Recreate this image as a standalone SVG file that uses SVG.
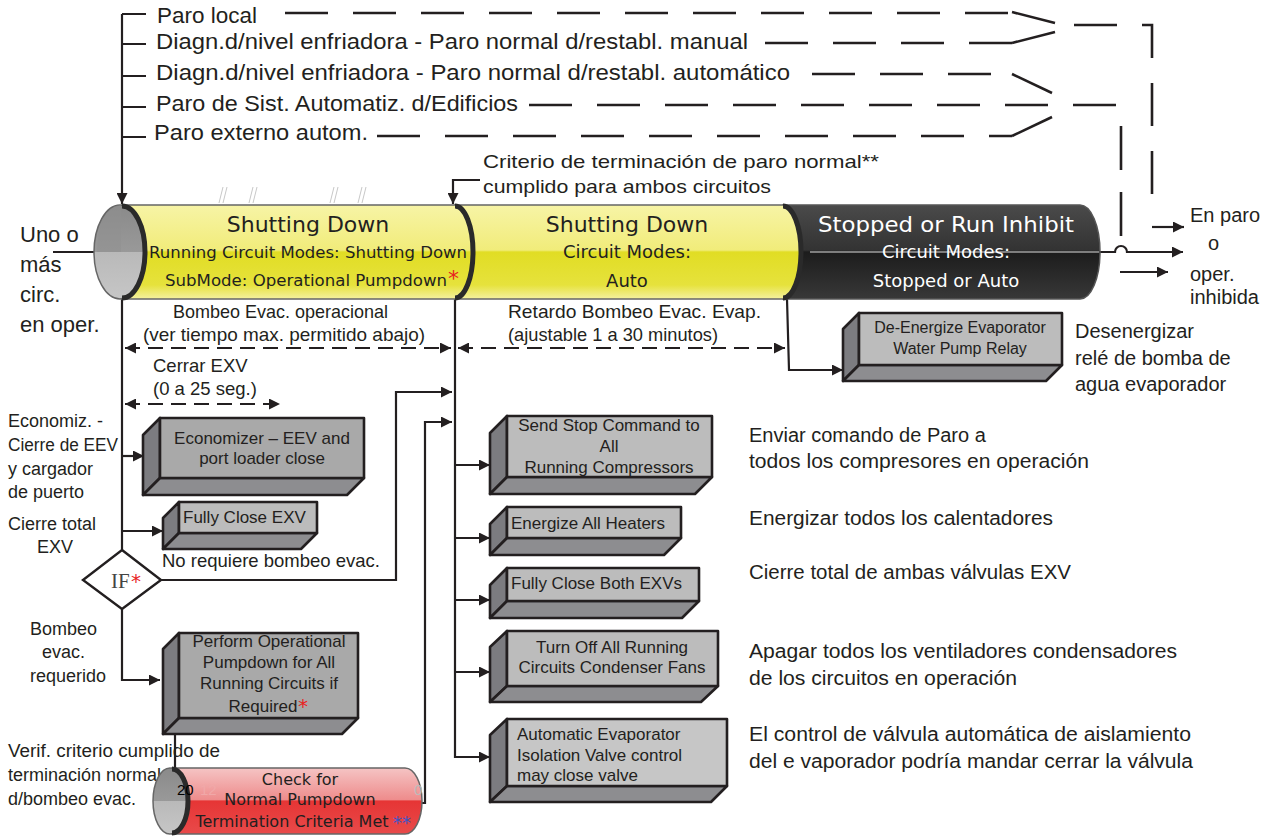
<svg xmlns="http://www.w3.org/2000/svg" width="1273" height="837" viewBox="0 0 1273 837">
<defs>
<style>
.t{font-family:"Liberation Sans",Arial,sans-serif;fill:#231f20}
.v{font-family:"DejaVu Sans",Verdana,sans-serif;fill:#231f20}
.bx{font-family:"Liberation Sans",Arial,sans-serif;fill:#231f20;font-size:17px}
.ln{stroke:#231f20;stroke-width:2.2;fill:none}
.ds{stroke:#231f20;stroke-width:2.6;fill:none;stroke-dasharray:43 25}
.dd{stroke:#231f20;stroke-width:2.2;fill:none;stroke-dasharray:15 8}
.sl{stroke:#231f20;stroke-width:2.6;fill:none}
.ff{fill:#bcbcbc;stroke:#231f20;stroke-width:2.6;stroke-linejoin:round}
.fd{fill:#a9a9a9;stroke:#231f20;stroke-width:2.6;stroke-linejoin:round}
.fs{fill:#7c7c80;stroke:#231f20;stroke-width:2.6;stroke-linejoin:round}
.fb{fill:#8d8d90;stroke:#231f20;stroke-width:2.6;stroke-linejoin:round}
.cres{stroke:#2a2a2a;stroke-width:5;fill:none}
.red{fill:#e8231f}
.w{fill:#fff}
</style>
<marker id="ah" viewBox="0 0 10 10" refX="10" refY="5" markerWidth="11" markerHeight="11" markerUnits="userSpaceOnUse" orient="auto-start-reverse"><path d="M0,0 L10,5 L0,10 z" fill="#231f20"/></marker>
<linearGradient id="yel" x1="0" y1="0" x2="0" y2="1">
<stop offset="0" stop-color="#f7f4a6"/><stop offset="0.48" stop-color="#f1ec7a"/><stop offset="0.5" stop-color="#e1dd24"/><stop offset="0.85" stop-color="#e6e23c"/><stop offset="1" stop-color="#f4f1a0"/>
</linearGradient>
<linearGradient id="blk" x1="0" y1="0" x2="0" y2="1">
<stop offset="0" stop-color="#4a4a4a"/><stop offset="0.48" stop-color="#333"/><stop offset="0.5" stop-color="#1c1c1c"/><stop offset="1" stop-color="#383838"/>
</linearGradient>
<linearGradient id="rd" x1="0" y1="0" x2="0" y2="1">
<stop offset="0" stop-color="#f5c4c4"/><stop offset="0.48" stop-color="#ee8c8c"/><stop offset="0.5" stop-color="#e63535"/><stop offset="1" stop-color="#e84a4a"/>
</linearGradient>
<linearGradient id="gc" x1="0" y1="0" x2="0" y2="1">
<stop offset="0" stop-color="#8a8a8a"/><stop offset="0.5" stop-color="#999"/><stop offset="0.5" stop-color="#b9b9b9"/><stop offset="1" stop-color="#c6c6c6"/>
</linearGradient>
</defs>
<rect width="1273" height="837" fill="#fff"/>

<g id="inputs">
<text class="t" x="157" y="23" font-size="22" textLength="100" lengthAdjust="spacingAndGlyphs">Paro local</text>
<text class="t" x="156" y="49" font-size="22" textLength="592" lengthAdjust="spacingAndGlyphs">Diagn.d/nivel enfriadora - Paro normal d/restabl. manual</text>
<text class="t" x="156" y="80" font-size="22" textLength="634" lengthAdjust="spacingAndGlyphs">Diagn.d/nivel enfriadora - Paro normal d/restabl. automático</text>
<text class="t" x="156" y="111" font-size="22" textLength="362" lengthAdjust="spacingAndGlyphs">Paro de Sist. Automatiz. d/Edificios</text>
<text class="t" x="154" y="140" font-size="22" textLength="214" lengthAdjust="spacingAndGlyphs">Paro externo autom.</text>
</g>

<g id="connectors">
<path class="ln" d="M122 14 V204" marker-end="url(#ah)"/>
<path class="ln" d="M122 14 H146 M122 44 H146 M122 76 H146 M122 107 H146 M122 137 H146"/>
<path class="ds" d="M285 13 H1010"/>
<path class="sl" d="M1012 12 L1055 23"/>
<path class="ds" d="M765 43 H1012"/>
<path class="sl" d="M1012 43 L1055 32"/>
<path class="ds" d="M1074 25 H1152 V195"/>
<path class="ds" d="M812 74 H995"/>
<path class="sl" d="M1012 74 L1052 93"/>
<path class="ds" d="M529 105 H1118"/>
<path class="ds" d="M377 136 H1012"/>
<path class="sl" d="M1012 136 L1052 117"/>
<path class="sl" d="M1121 126 V237" stroke-dasharray="44 22"/>
<path class="ln" d="M480 180 H453 V204" marker-end="url(#ah)"/>
<path class="ln" d="M53 252 H115" marker-end="url(#ah)"/>
<path class="ln" d="M1098 252 H1115 A6 6 0 0 1 1127 252 H1183" marker-end="url(#ah)"/>
<path class="ln" d="M1152 227 H1184" marker-end="url(#ah)"/>
<path class="ln" d="M1120 272 H1168" marker-end="url(#ah)"/>
<path class="ln" d="M122 299 V550"/>
<path class="ln" d="M122 456 H144" marker-end="url(#ah)"/>
<path class="ln" d="M122 531 H163" marker-end="url(#ah)"/>
<path class="ln" d="M161 580 H396 V392 H452" marker-end="url(#ah)"/>
<path class="ln" d="M122 609 V680 H160" marker-end="url(#ah)"/>
<path class="ln" d="M175 735 V772"/>
<path class="ln" d="M408 803 H425 V422 H452" marker-end="url(#ah)"/>
<path class="ln" d="M455 299 V757 H490" marker-end="url(#ah)"/>
<path class="ln" d="M455 465 H490" marker-end="url(#ah)"/>
<path class="ln" d="M455 538 H490" marker-end="url(#ah)"/>
<path class="ln" d="M455 600 H490" marker-end="url(#ah)"/>
<path class="ln" d="M455 672 H490" marker-end="url(#ah)"/>
<path class="ln" d="M787 299 L789 370 H843" marker-end="url(#ah)"/>
<path class="dd" d="M125 348 H451" marker-start="url(#ah)" marker-end="url(#ah)"/>
<path class="dd" d="M458 348 H785" marker-start="url(#ah)" marker-end="url(#ah)"/>
<path class="dd" d="M125 404 H280" marker-start="url(#ah)" marker-end="url(#ah)"/>
</g>

<g id="marks" stroke="#c8c8c8" stroke-width="1" fill="none">
<path d="M223 187 L219 203 M227 187 L223 203 M253 187 L249 203 M257 187 L253 203 M334 187 L330 203 M338 187 L334 203 M362 187 L358 203 M366 187 L362 203"/>
</g>

<g id="pipe">
<path d="M783 205 H1080 A20 47 0 0 1 1080 299 H783 Z" fill="url(#blk)" stroke="#555" stroke-width="1.5"/>
<line x1="810" y1="252" x2="1099" y2="252" stroke="#ddd" stroke-width="1"/>
<path d="M455 205 H783 A18 47 0 0 1 783 299 H455 Z" fill="url(#yel)" stroke="#666" stroke-width="1.5"/>
<path class="cres" d="M783 206 A18 46 0 0 1 783 298"/>
<path d="M122 205 H455 A18 47 0 0 1 455 299 H122 Z" fill="url(#yel)" stroke="#666" stroke-width="1.5"/>
<path class="cres" d="M455 206 A18 46 0 0 1 455 298"/>
<ellipse cx="120" cy="252" rx="26" ry="47" fill="url(#gc)" stroke="#666" stroke-width="1.5"/>
<path d="M97 252 A24 47 0 0 1 121 205 V252 Z" fill="#909090" opacity="0.5"/>
<path class="cres" d="M122 206 A23 46 0 0 1 122 298"/>
<text class="v" x="308" y="232" font-size="22" text-anchor="middle">Shutting Down</text>
<text class="v" x="308" y="258" font-size="16" text-anchor="middle" textLength="318" lengthAdjust="spacingAndGlyphs">Running Circuit Modes: Shutting Down</text>
<text class="v" x="165" y="286" font-size="16" textLength="282" lengthAdjust="spacingAndGlyphs">SubMode: Operational Pumpdown</text>
<text x="448" y="286" font-size="22" class="red" font-family="DejaVu Sans,sans-serif">*</text>
<text class="v" x="627" y="232" font-size="22" text-anchor="middle">Shutting Down</text>
<text class="v" x="627" y="258" font-size="18" text-anchor="middle">Circuit Modes:</text>
<text class="v" x="627" y="287" font-size="18" text-anchor="middle">Auto</text>
<text class="v w" x="946" y="232" font-size="22" text-anchor="middle" textLength="256" lengthAdjust="spacingAndGlyphs">Stopped or Run Inhibit</text>
<text class="v w" x="946" y="258" font-size="18" text-anchor="middle">Circuit Modes:</text>
<text class="v w" x="946" y="287" font-size="18" text-anchor="middle">Stopped or Auto</text>
</g>

<g id="labels">
<text class="t" font-size="19" x="483" y="168" textLength="396" lengthAdjust="spacingAndGlyphs">Criterio de terminación de paro normal**</text>
<text class="t" font-size="19" x="483" y="193" textLength="288" lengthAdjust="spacingAndGlyphs">cumplido para ambos circuitos</text>
<text class="t" font-size="22" x="20" y="242">Uno o</text>
<text class="t" font-size="22" x="20" y="272">más</text>
<text class="t" font-size="22" x="20" y="302">circ.</text>
<text class="t" font-size="22" x="20" y="332">en oper.</text>
<text class="t" font-size="20" x="1190" y="222">En paro</text>
<text class="t" font-size="20" x="1208" y="250">o</text>
<text class="t" font-size="20" x="1190" y="281">oper.</text>
<text class="t" font-size="20" x="1190" y="304">inhibida</text>
<text class="t" font-size="18.5" x="173" y="318" textLength="215" lengthAdjust="spacingAndGlyphs">Bombeo Evac. operacional</text>
<text class="t" font-size="18.5" x="143" y="341" textLength="282" lengthAdjust="spacingAndGlyphs">(ver tiempo max. permitido abajo)</text>
<text class="t" font-size="18.5" x="508" y="318" textLength="253" lengthAdjust="spacingAndGlyphs">Retardo Bombeo Evac. Evap.</text>
<text class="t" font-size="18.5" x="508" y="341" textLength="210" lengthAdjust="spacingAndGlyphs">(ajustable 1 a 30 minutos)</text>
<text class="t" font-size="18.5" x="153" y="372">Cerrar EXV</text>
<text class="t" font-size="18.5" x="153" y="395">(0 a 25 seg.)</text>
<text class="t" font-size="18" x="8" y="427">Economiz. -</text>
<text class="t" font-size="18" x="8" y="451" textLength="110" lengthAdjust="spacingAndGlyphs">Cierre de EEV</text>
<text class="t" font-size="18" x="8" y="475">y cargador</text>
<text class="t" font-size="18" x="8" y="498">de puerto</text>
<text class="t" font-size="18" x="8" y="530">Cierre total</text>
<text class="t" font-size="18" x="37" y="553">EXV</text>
<text class="t" font-size="18.5" x="162" y="567" textLength="218" lengthAdjust="spacingAndGlyphs">No requiere bombeo evac.</text>
<text class="t" font-size="18" x="30" y="635">Bombeo</text>
<text class="t" font-size="18" x="42" y="658">evac.</text>
<text class="t" font-size="18" x="30" y="682">requerido</text>
<text class="t" font-size="18" x="8" y="757" textLength="212" lengthAdjust="spacingAndGlyphs">Verif. criterio cumplido de</text>
<text class="t" font-size="18" x="8" y="781">terminación normal</text>
<text class="t" font-size="18" x="8" y="805">d/bombeo evac.</text>
<text class="t" font-size="20" x="1075" y="338">Desenergizar</text>
<text class="t" font-size="20" x="1075" y="365">relé de bomba de</text>
<text class="t" font-size="20" x="1075" y="391">agua evaporador</text>
<text class="t" font-size="20" x="749" y="442">Enviar comando de Paro a</text>
<text class="t" font-size="20" x="749" y="468" textLength="340" lengthAdjust="spacingAndGlyphs">todos los compresores en operación</text>
<text class="t" font-size="20" x="749" y="525" textLength="304" lengthAdjust="spacingAndGlyphs">Energizar todos los calentadores</text>
<text class="t" font-size="20" x="749" y="579" textLength="322" lengthAdjust="spacingAndGlyphs">Cierre total de ambas válvulas EXV</text>
<text class="t" font-size="20" x="749" y="658" textLength="428" lengthAdjust="spacingAndGlyphs">Apagar todos los ventiladores condensadores</text>
<text class="t" font-size="20" x="749" y="685" textLength="268" lengthAdjust="spacingAndGlyphs">de los circuitos en operación</text>
<text class="t" font-size="20" x="749" y="741" textLength="442" lengthAdjust="spacingAndGlyphs">El control de válvula automática de aislamiento</text>
<text class="t" font-size="20" x="749" y="768" textLength="444" lengthAdjust="spacingAndGlyphs">del e vaporador podría mandar cerrar la válvula</text>
</g>

<g id="if">
<polygon points="122,550 161,580 122,609 83,580" fill="#fff" stroke="#231f20" stroke-width="2.4"/>
<text x="111" y="588" font-size="21" font-family="Liberation Serif,serif" fill="#444">IF</text>
<text x="131" y="588" font-size="20" font-family="DejaVu Sans,sans-serif" class="red">*</text>
</g>

<g id="economizer">
<polygon class="fs" points="143,435 160,418 160,478 143,495"/>
<polygon class="fb" points="143,495 160,478 364,478 347,495"/>
<rect class="fd" x="160" y="418" width="204" height="60"/>
<text class="bx" x="262" y="444" text-anchor="middle">Economizer – EEV and</text>
<text class="bx" x="262" y="464" text-anchor="middle">port loader close</text>
</g>
<g id="fullyclose">
<polygon class="fs" points="163,518 179,502 179,533 163,549"/>
<polygon class="fb" points="163,549 179,533 317,533 301,549"/>
<rect class="ff" x="179" y="502" width="138" height="31"/>
<text class="bx" x="183" y="523">Fully Close EXV</text>
</g>
<g id="perform">
<polygon class="fs" points="163,649 179,633 179,718 163,734"/>
<polygon class="fb" points="163,734 179,718 358,718 342,734"/>
<rect class="fd" x="179" y="633" width="179" height="85"/>
<text class="bx" x="269" y="647" text-anchor="middle">Perform Operational</text>
<text class="bx" x="269" y="668" text-anchor="middle">Pumpdown for All</text>
<text class="bx" x="269" y="689" text-anchor="middle">Running Circuits if</text>
<text class="bx" x="263" y="712" text-anchor="middle">Required</text>
<text x="298" y="713" font-size="20" font-family="DejaVu Sans,sans-serif" class="red">*</text>
</g>
<g id="sendstop">
<polygon class="fs" points="490,433 507,416 507,477 490,494"/>
<polygon class="fb" points="490,494 507,477 712,477 695,494"/>
<rect class="ff" x="507" y="416" width="205" height="61"/>
<text class="bx" x="609" y="431" text-anchor="middle">Send Stop Command to</text>
<text class="bx" x="609" y="452" text-anchor="middle">All</text>
<text class="bx" x="609" y="473" text-anchor="middle">Running Compressors</text>
</g>
<g id="energize">
<polygon class="fs" points="490,524 507,507 507,538 490,555"/>
<polygon class="fb" points="490,555 507,538 681,538 664,555"/>
<rect class="ff" x="507" y="507" width="174" height="31"/>
<text class="bx" x="511" y="529">Energize All Heaters</text>
</g>
<g id="closeboth">
<polygon class="fs" points="490,585 507,568 507,601 490,618"/>
<polygon class="fb" points="490,618 507,601 699,601 682,618"/>
<rect class="ff" x="507" y="568" width="192" height="33"/>
<text class="bx" x="511" y="589">Fully Close Both EXVs</text>
</g>
<g id="fans">
<polygon class="fs" points="490,647 507,631 507,686 490,702"/>
<polygon class="fb" points="490,702 507,686 718,686 701,702"/>
<rect class="ff" x="507" y="631" width="211" height="55"/>
<text class="bx" x="612" y="653" text-anchor="middle">Turn Off All Running</text>
<text class="bx" x="612" y="673" text-anchor="middle">Circuits Condenser Fans</text>
</g>
<g id="isolation">
<polygon class="fs" points="490,735 507,719 507,786 490,802"/>
<polygon class="fb" points="490,802 507,786 727,786 711,802"/>
<rect class="ff" x="507" y="719" width="220" height="67" style="fill:#c6c6c6"/>
<text class="bx" x="517" y="740">Automatic Evaporator</text>
<text class="bx" x="517" y="761">Isolation Valve control</text>
<text class="bx" x="517" y="781">may close valve</text>
</g>
<g id="deenergize">
<polygon class="fs" points="843,329 859,313 859,365 843,381"/>
<polygon class="fb" points="843,381 859,365 1062,365 1046,381"/>
<rect class="ff" x="859" y="313" width="203" height="52"/>
<text class="bx" x="960" y="333" text-anchor="middle" style="font-size:16px">De-Energize Evaporator</text>
<text class="bx" x="960" y="354" text-anchor="middle" style="font-size:16px">Water Pump Relay</text>
</g>

<g id="check">
<path d="M172 768 H405 A17 33 0 0 1 405 834 H172 Z" fill="url(#rd)" stroke="#666" stroke-width="1.5"/>
<ellipse cx="170" cy="801" rx="17" ry="33" fill="url(#gc)" stroke="#666" stroke-width="1.5"/>
<path class="cres" d="M172 769 A16 32 0 0 1 172 833"/>
<text x="200" y="795" font-size="15" font-family="Liberation Sans,sans-serif" fill="#f0a8a8">12</text>
<text x="414" y="795" font-size="15" font-family="Liberation Sans,sans-serif" fill="#bbb">0</text>
<text x="177" y="795" font-size="15" font-family="Liberation Sans,sans-serif" fill="#000">20</text>
<text class="v" x="300" y="785" font-size="16" text-anchor="middle">Check for</text>
<text class="v" x="300" y="805" font-size="16" text-anchor="middle">Normal Pumpdown</text>
<text class="v" x="292" y="827" font-size="16" text-anchor="middle">Termination Criteria Met</text>
<text x="393" y="829" font-size="18" font-family="DejaVu Sans,sans-serif" fill="#3a55c8">**</text>
</g>
</svg>
